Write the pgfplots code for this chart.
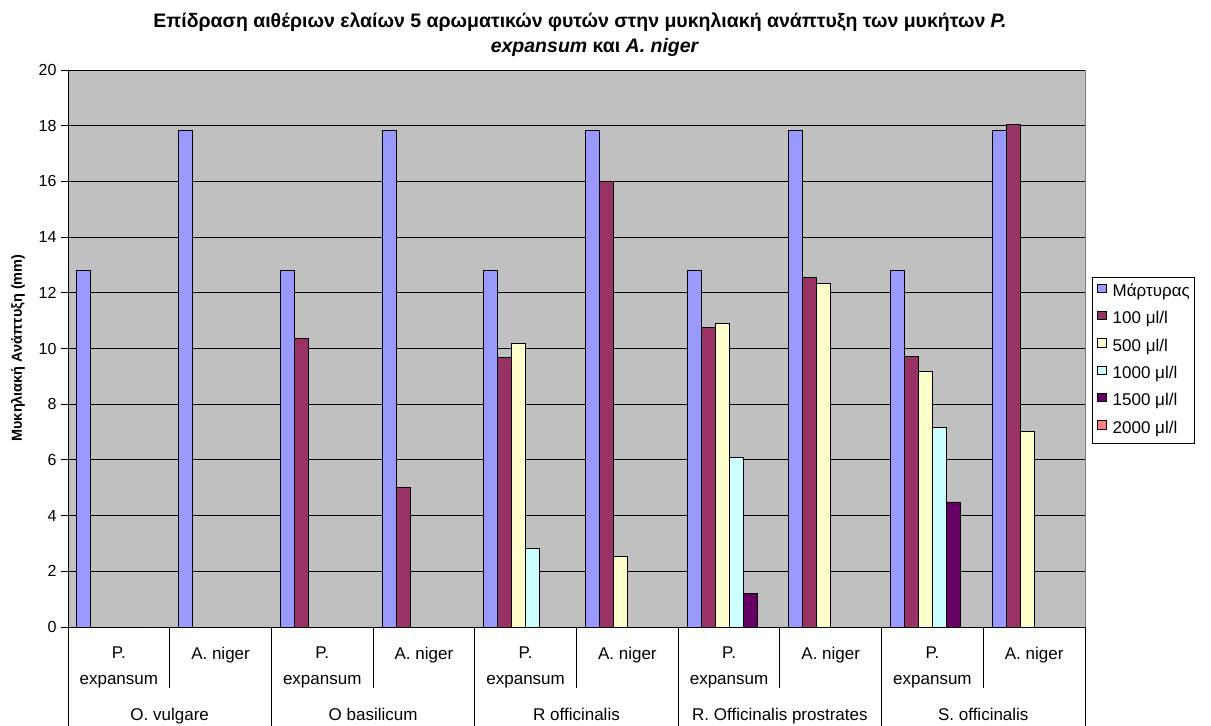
\documentclass[border=0pt]{standalone}
\usepackage{pgfplots}
\pgfplotsset{compat=1.18}
\usepackage{fontspec}
\setmainfont{Liberation Sans}
\definecolor{cM}{HTML}{9999FF}
\definecolor{cA}{HTML}{993366}
\definecolor{cB}{HTML}{FFFFCC}
\definecolor{cC}{HTML}{CCFFFF}
\definecolor{cD}{HTML}{660066}
\definecolor{cE}{HTML}{FF8080}
\definecolor{bg}{HTML}{C0C0C0}
\begin{document}
\begin{tikzpicture}[x=1pt,y=1pt]
\path[use as bounding box] (0,0) rectangle (1211,-726);
\node[font=\bfseries\fontsize{19.5}{22}\selectfont, anchor=base, inner sep=0pt] at (580,-27)
  {Επίδραση αιθέριων ελαίων 5 αρωματικών φυτών στην μυκηλιακή ανάπτυξη των μυκήτων \textit{P.}};
\node[font=\bfseries\fontsize{19.5}{22}\selectfont, anchor=base, inner sep=0pt] at (595,-52)
  {\textit{expansum} και \textit{A. niger}};
\node[font=\bfseries\fontsize{14.5}{17}\selectfont, rotate=90] at (18,-348) {Μυκηλιακή Ανάπτυξη (mm)};
\begin{axis}[
  at={(68pt,-627pt)}, anchor=south west,
  width=1017pt, height=557pt, scale only axis,
  xmin=-0.5, xmax=9.5, ymin=0, ymax=20,
  ytick={0,2,...,20},
  ymajorgrids, grid style={black, line width=0.9pt},
  axis background/.style={fill=bg},
  axis x line*=bottom, axis y line*=left,
  axis line style={black, line width=1pt},
  ytick align=outside, major tick length=7pt,
  ytick style={black, line width=1pt},
  xtick={0,...,9},
  xticklabels={{P.\\expansum},{A. niger},{P.\\expansum},{A. niger},{P.\\expansum},{A. niger},{P.\\expansum},{A. niger},{P.\\expansum},{A. niger}},
  xtick style={draw=none},
  x tick label style={align=center, anchor=north, yshift=-9.5pt, font=\fontsize{17}{26}\selectfont},
  extra x ticks={0.5,2.5,4.5,6.5,8.5},
  extra x tick labels={O. vulgare, O basilicum, R officinalis, R. Officinalis prostrates, S. officinalis},
  extra x tick style={tick style={draw=none}, x tick label style={yshift=-61pt}},
  y tick label style={font=\fontsize{16}{18}\selectfont},
  /pgf/number format/assume math mode=true,
  yticklabel style={xshift=-1pt},
  ybar=0pt, bar width=14pt,
  clip=false,
  legend style={at={(1.0069,0.628)}, anchor=north west, draw=black, line width=0.8pt, fill=white,
    font=\fontsize{17}{20}\selectfont, inner xsep=5pt, inner ysep=6pt, row sep=10.4pt, column sep=6pt,
    nodes={inner sep=0pt, text height=12pt, text depth=4pt}},
  legend cell align=left,
  legend image code/.code={\draw[#1, line width=0.8pt] (0pt,0pt) rectangle (8.5pt,8.5pt);},
]
\addplot[draw=black, line width=0.9pt, fill=cM] coordinates {(0,12.8) (1,17.83) (2,12.8) (3,17.83) (4,12.8) (5,17.83) (6,12.8) (7,17.83) (8,12.8) (9,17.83)};
\addplot[draw=black, line width=0.9pt, fill=cA] coordinates {(2,10.35) (3,5.02) (4,9.68) (5,16.0) (6,10.75) (7,12.54) (8,9.72) (9,18.03)};
\addplot[draw=black, line width=0.9pt, fill=cB] coordinates {(4,10.17) (5,2.54) (6,10.9) (7,12.34) (8,9.17) (9,7.02)};
\addplot[draw=black, line width=0.9pt, fill=cC] coordinates {(4,2.82) (6,6.08) (8,7.17)};
\addplot[draw=black, line width=0.9pt, fill=cD] coordinates {(6,1.2) (8,4.49)};
\addplot[draw=black, line width=0.9pt, fill=cE] coordinates {(0,0)};
\legend{Μάρτυρας, 100 μl/l, 500 μl/l, 1000 μl/l, 1500 μl/l, 2000 μl/l}
\pgfplotsinvokeforeach{-0.5,1.5,3.5,5.5,7.5,9.5}{\draw[black, line width=0.9pt] (axis cs:#1,0) -- ++(0pt,-99pt);}
\pgfplotsinvokeforeach{0.5,2.5,4.5,6.5,8.5}{\draw[black, line width=0.9pt] (axis cs:#1,0) -- ++(0pt,-61pt);}
\draw[gray, line width=1pt] (rel axis cs:1,0) -- (rel axis cs:1,1);
\end{axis}
\end{tikzpicture}
\end{document}
